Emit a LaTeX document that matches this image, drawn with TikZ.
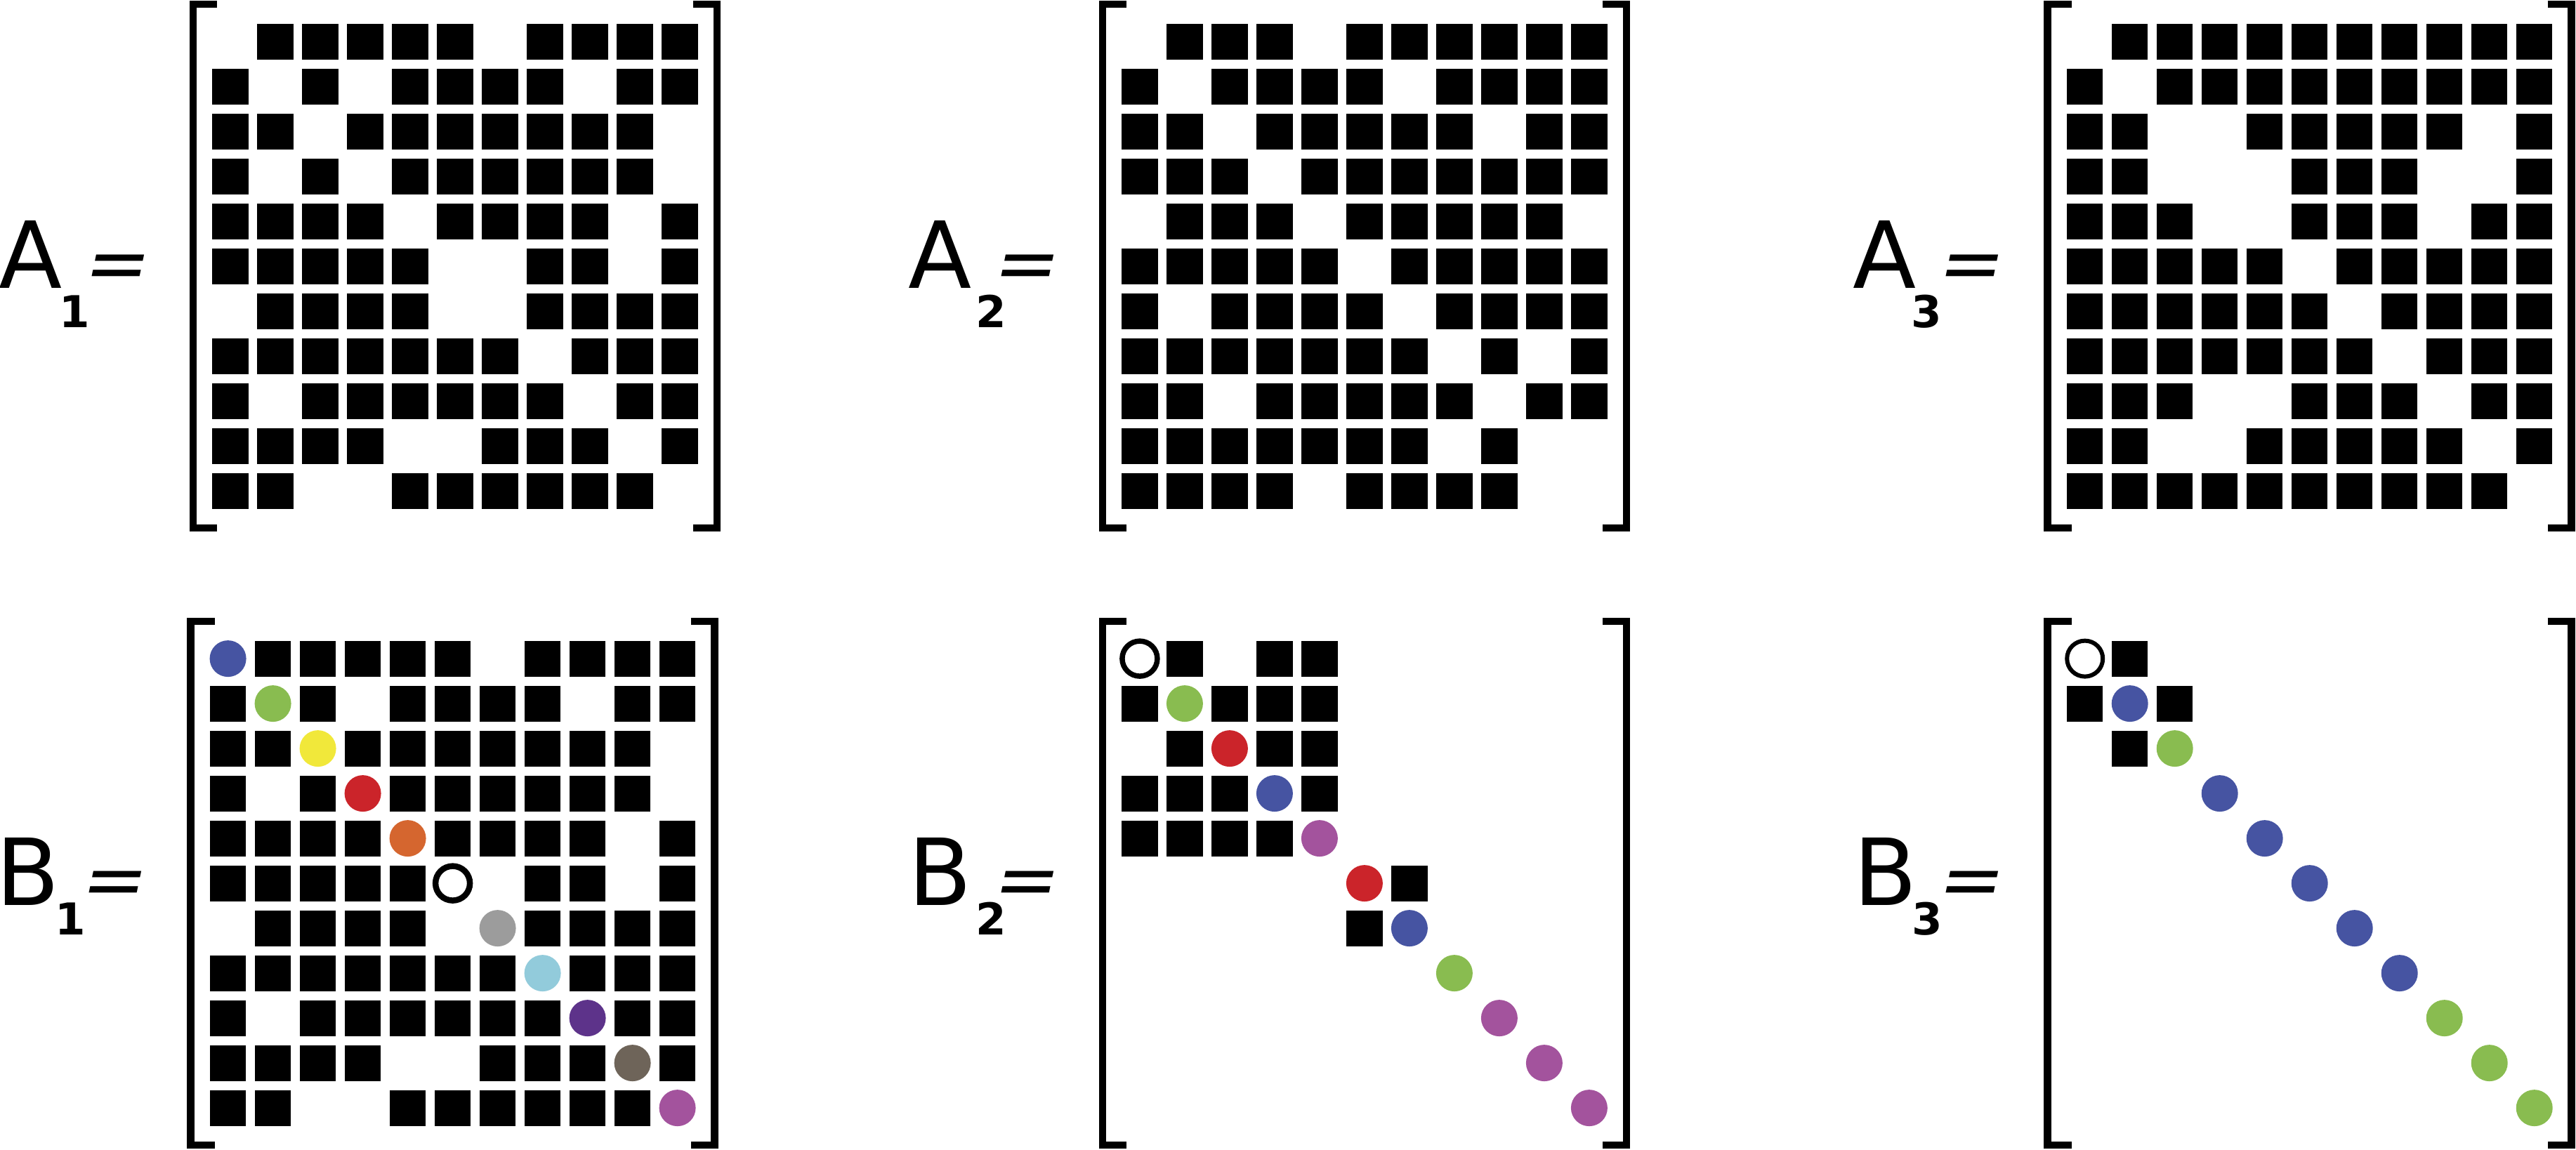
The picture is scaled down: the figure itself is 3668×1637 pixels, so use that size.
\documentclass[tikz,border=0pt]{standalone}
\usepackage{fontspec}
\setmainfont{DejaVu Sans}
\newfontfamily\eqfont[FakeSlant=0.21]{DejaVu Sans}
\usepackage{tikz}
\definecolor{dblue}{RGB}{70,84,162}
\definecolor{dgreen}{RGB}{137,188,80}
\definecolor{dyellow}{RGB}{241,232,58}
\definecolor{dred}{RGB}{203,36,42}
\definecolor{dorange}{RGB}{213,102,47}
\definecolor{dgray}{RGB}{156,156,156}
\definecolor{dcyan}{RGB}{146,203,219}
\definecolor{dpurple}{RGB}{93,51,138}
\definecolor{dbrown}{RGB}{110,100,89}
\definecolor{dmagenta}{RGB}{163,83,157}
% grid of filled cells: #1 left, #2 top, #3 rows of 0/1
\newcommand{\sqgrid}[3]{%
  \foreach \rowpat [count=\rr] in {#3} {
    \foreach \vv [count=\cc] in \rowpat {
      \ifnum\vv=1 \fill[cell] ({#1+64*(\cc-1)},{#2+64*(\rr-1)}) rectangle ++(51.2,51.2); \fi
    }
  }%
}
% coloured dots on the diagonal: #1 left, #2 top, #3 list k/colour
\newcommand{\diagdots}[3]{%
  \foreach \kk/\cl in {#3} {
    \fill[\cl] ({#1+64*(\kk-1)+25.6},{#2+64*(\kk-1)+25.6}) circle[radius=2.6mm];
  }%
}
% square brackets round an 11x11 grid: #1 left, #2 top
\newcommand{\brackets}[2]{%
  \draw[bracket] ({#1+6.5},{#2-27.5}) -| ({#1-27.5},{#2+718.5}) -- ({#1+6.5},{#2+718.5});
  \draw[bracket] ({#1+684.5},{#2-27.5}) -| ({#1+718.5},{#2+718.5}) -- ({#1+684.5},{#2+718.5});
}

\begin{document}
\begin{tikzpicture}[
    x=0.1mm, y=-0.1mm,
    cell/.style={fill=black},
    bracket/.style={draw=black, line width=1.05mm},
    ring/.style={draw=black, fill=white, line width=0.75mm},
    lett/.style={font=\fontsize{37.5}{40}\selectfont, inner sep=0, outer sep=0, anchor=base},
    subscr/.style={font=\fontsize{17.8}{20}\selectfont\bfseries, inner sep=0, outer sep=0, anchor=base},
    eqsign/.style={font=\eqfont\fontsize{31}{34}\selectfont, inner sep=0, outer sep=0, anchor=base}
  ]
  \useasboundingbox (0,0) rectangle (3668,1637);

  % Labels, top row
  \node[lett]   (A1let) at (43.5,410.7)   {A};
  \node[subscr] (A1sub) at (106.4,466.7)  {1};
  \node[eqsign] (A1eq)  at (161,412)      {=};
  \node[lett]   (A2let) at (1338.4,410.7) {A};
  \node[subscr] (A2sub) at (1411.7,466.7) {2};
  \node[eqsign] (A2eq)  at (1456,412)     {=};
  \node[lett]   (A3let) at (2683.4,410.7) {A};
  \node[subscr] (A3sub) at (2743.5,466.7) {3};
  \node[eqsign] (A3eq)  at (2801,412)     {=};

  % Labels, bottom row
  \node[lett]   (B1let) at (40,1289.3)    {B};
  \node[subscr] (B1sub) at (100.5,1331.7) {1};
  \node[eqsign] (B1eq)  at (157,1290.6)   {=};
  \node[lett]   (B2let) at (1339,1289.3)  {B};
  \node[subscr] (B2sub) at (1411.7,1331.7) {2};
  \node[eqsign] (B2eq)  at (1456,1290.6)  {=};
  \node[lett]   (B3let) at (2684.2,1289.3) {B};
  \node[subscr] (B3sub) at (2743.9,1331.7) {3};
  \node[eqsign] (B3eq)  at (2801,1290.6)  {=};

  % A_1
  \sqgrid{302.3}{33.5}{
    {0,1,1,1,1,1,0,1,1,1,1},
    {1,0,1,0,1,1,1,1,0,1,1},
    {1,1,0,1,1,1,1,1,1,1,0},
    {1,0,1,0,1,1,1,1,1,1,0},
    {1,1,1,1,0,1,1,1,1,0,1},
    {1,1,1,1,1,0,0,1,1,0,1},
    {0,1,1,1,1,0,0,1,1,1,1},
    {1,1,1,1,1,1,1,0,1,1,1},
    {1,0,1,1,1,1,1,1,0,1,1},
    {1,1,1,1,0,0,1,1,1,0,1},
    {1,1,0,0,1,1,1,1,1,1,0}}
  \brackets{302.3}{33.5}

  % A_2
  \sqgrid{1597.3}{33.5}{
    {0,1,1,1,0,1,1,1,1,1,1},
    {1,0,1,1,1,1,0,1,1,1,1},
    {1,1,0,1,1,1,1,1,0,1,1},
    {1,1,1,0,1,1,1,1,1,1,1},
    {0,1,1,1,0,1,1,1,1,1,0},
    {1,1,1,1,1,0,1,1,1,1,1},
    {1,0,1,1,1,1,0,1,1,1,1},
    {1,1,1,1,1,1,1,0,1,0,1},
    {1,1,0,1,1,1,1,1,0,1,1},
    {1,1,1,1,1,1,1,0,1,0,0},
    {1,1,1,1,0,1,1,1,1,0,0}}
  \brackets{1597.3}{33.5}

  % A_3
  \sqgrid{2943.1}{33.5}{
    {0,1,1,1,1,1,1,1,1,1,1},
    {1,0,1,1,1,1,1,1,1,1,1},
    {1,1,0,0,1,1,1,1,1,0,1},
    {1,1,0,0,0,1,1,1,0,0,1},
    {1,1,1,0,0,1,1,1,0,1,1},
    {1,1,1,1,1,0,1,1,1,1,1},
    {1,1,1,1,1,1,0,1,1,1,1},
    {1,1,1,1,1,1,1,0,1,1,1},
    {1,1,1,0,0,1,1,1,0,1,1},
    {1,1,0,0,1,1,1,1,1,0,1},
    {1,1,1,1,1,1,1,1,1,1,0}}
  \brackets{2943.1}{33.5}

  % B_1
  \sqgrid{299}{912.5}{
    {0,1,1,1,1,1,0,1,1,1,1},
    {1,0,1,0,1,1,1,1,0,1,1},
    {1,1,0,1,1,1,1,1,1,1,0},
    {1,0,1,0,1,1,1,1,1,1,0},
    {1,1,1,1,0,1,1,1,1,0,1},
    {1,1,1,1,1,0,0,1,1,0,1},
    {0,1,1,1,1,0,0,1,1,1,1},
    {1,1,1,1,1,1,1,0,1,1,1},
    {1,0,1,1,1,1,1,1,0,1,1},
    {1,1,1,1,0,0,1,1,1,0,1},
    {1,1,0,0,1,1,1,1,1,1,0}}
  \diagdots{299}{912.5}{1/dblue,2/dgreen,3/dyellow,4/dred,5/dorange,
    7/dgray,8/dcyan,9/dpurple,10/dbrown,11/dmagenta}
  \draw[ring, line width=0.85mm] (299+5*64+25.6,912.5+5*64+25.6) circle[radius=2.45mm];
  \brackets{299}{912.5}

  % B_2
  \sqgrid{1597.3}{912.5}{
    {0,1,0,1,1},
    {1,0,1,1,1},
    {0,1,0,1,1},
    {1,1,1,0,1},
    {1,1,1,1,0},
    {0,0,0,0,0,0,1},
    {0,0,0,0,0,1,0}}
  \diagdots{1597.3}{912.5}{2/dgreen,3/dred,4/dblue,5/dmagenta,6/dred,
    7/dblue,8/dgreen,9/dmagenta,10/dmagenta,11/dmagenta}
  \draw[ring] (1597.3+25.6,912.5+25.6) circle[radius=2.5mm];
  \brackets{1597.3}{912.5}

  % B_3
  \sqgrid{2943.1}{912.5}{
    {0,1},
    {1,0,1},
    {0,1,0}}
  \diagdots{2943.1}{912.5}{2/dblue,3/dgreen,4/dblue,5/dblue,6/dblue,
    7/dblue,8/dblue,9/dgreen,10/dgreen,11/dgreen}
  \draw[ring, line width=0.6mm] (2943.1+25.6,912.5+25.6) circle[radius=2.55mm];
  \brackets{2943.1}{912.5}
\end{tikzpicture}
\end{document}
